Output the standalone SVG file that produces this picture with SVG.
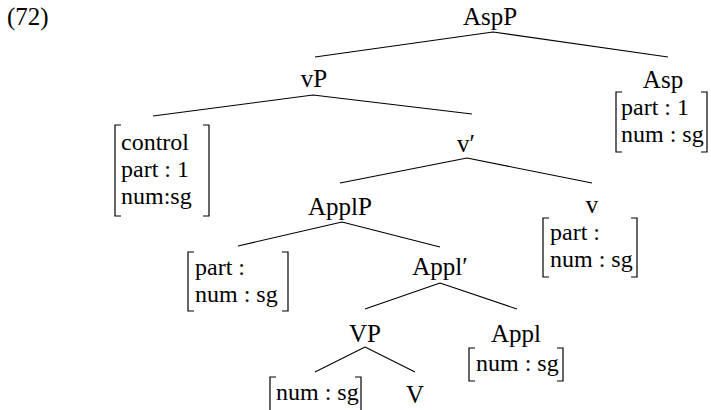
<svg xmlns="http://www.w3.org/2000/svg" width="711" height="410" viewBox="0 0 711 410">
<style>
text{font-family:"Liberation Serif","Times New Roman",serif;font-size:25px;fill:#000}
.f{font-size:24px}
.m{text-anchor:middle}
.e{stroke:#000;stroke-width:1.1;fill:none}
.b{stroke:#000;stroke-width:1.2;fill:none}
</style>
<rect width="711" height="410" fill="#fff"/>
<text x="7" y="25">(72)</text>
<g id="connectors">
<path class="e" d="M493,32L315,57M493,32L668,57"/>
<path class="e" d="M313,95L153,116M313,95L472,114"/>
<path class="e" d="M467,158L340,183M467,158L592,183"/>
<path class="e" d="M342,222L238,246M342,222L440,247"/>
<path class="e" d="M440,283L365,309M440,283L517,309"/>
<path class="e" d="M365,347L315,372M365,347L415,372"/>
</g>
<g id="AspP"><text class="m" x="490" y="25">AspP</text></g>
<g id="vP"><text class="m" x="314" y="87">vP</text></g>
<g id="Asp"><text class="m" x="663" y="88">Asp</text>
<path class="b" d="M622,92H616V152H622M701,92H707V152H701"/>
<text class="f" x="621" y="115">part : 1</text><text class="f" x="621" y="142">num : sg</text></g>
<g id="control"><path class="b" d="M121,125H115V216H121M203,125H209V216H203"/>
<text class="f" x="121" y="150">control</text><text class="f" x="121" y="177">part : 1</text><text class="f" x="121" y="204">num:sg</text></g>
<g id="vbar"><text class="m" x="466" y="152">v′</text></g>
<g id="ApplP"><text class="m" x="340" y="215">ApplP</text></g>
<g id="v"><text class="m" x="592" y="213">v</text>
<path class="b" d="M549,218H543V277H549M631,218H637V277H631"/>
<text class="f" x="550" y="240">part :</text><text class="f" x="550" y="267">num : sg</text></g>
<g id="applfeat"><path class="b" d="M194,252H188V311H194M282,252H288V311H282"/>
<text class="f" x="195" y="275">part :</text><text class="f" x="195" y="302">num : sg</text></g>
<g id="Applbar"><text class="m" x="440" y="275">Appl′</text></g>
<g id="VP"><text class="m" x="365" y="342">VP</text></g>
<g id="Appl"><text class="m" x="516" y="342">Appl</text>
<path class="b" d="M475,348H469V381H475M557,348H563V381H557"/>
<text class="f" x="476" y="371">num : sg</text></g>
<g id="objfeat"><path class="b" d="M276,377H270V415H276M355,377H361V415H355"/>
<text class="f" x="276" y="400">num : sg</text></g>
<g id="V"><text class="m" x="415" y="403">V</text></g>
</svg>
